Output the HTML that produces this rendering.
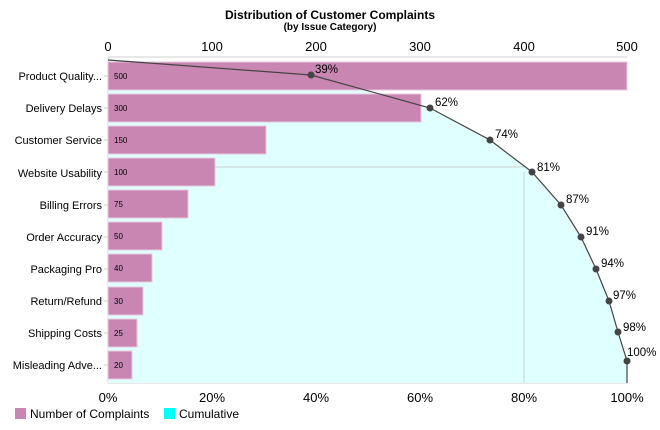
<!DOCTYPE html>
<html><head><meta charset="utf-8"><style>
body{margin:0;background:#fff;}
svg{display:block;font-family:"Liberation Sans",Arial,sans-serif;}
</style></head><body>
<svg width="660" height="430" viewBox="0 0 660 430">
<text x="330" y="19" text-anchor="middle" font-size="12" font-weight="bold">Distribution of Customer Complaints</text>
<text x="330" y="30" text-anchor="middle" font-size="10" font-weight="bold">(by Issue Category)</text>
<g font-size="13" text-anchor="middle">
<text x="108" y="51">0</text><text x="212" y="51">100</text><text x="316" y="51">200</text><text x="420" y="51">300</text><text x="524" y="51">400</text><text x="627" y="51">500</text>
<text x="108" y="402">0%</text><text x="212" y="402">20%</text><text x="316" y="402">40%</text><text x="420" y="402">60%</text><text x="524" y="402">80%</text><text x="627" y="402">100%</text>
</g>
<line x1="108" y1="57" x2="627" y2="57" stroke="#d0d0d0"/>
<line x1="108" y1="383" x2="627" y2="383" stroke="#d0d0d0"/>
<line x1="108" y1="57" x2="108" y2="383" stroke="#d0d0d0"/>
<polygon points="108,60 311,75 430,108 490,140 532,172 561,205 581,237 596,269 609,301 618,332 627,361 627,383 108,383" fill="#e0ffff"/>
<line x1="524" y1="172" x2="524" y2="383" stroke="#c8d0d0"/>
<line x1="108" y1="167" x2="524" y2="167" stroke="#c8d0d0"/>
<g fill="#c986b2" stroke="#e6c8dc" stroke-width="1">
<rect x="108" y="62" width="519" height="28"/>
<rect x="108" y="94" width="313" height="28"/>
<rect x="108" y="126" width="158" height="28"/>
<rect x="108" y="158" width="107" height="28"/>
<rect x="108" y="190" width="80" height="28"/>
<rect x="108" y="222" width="54" height="28"/>
<rect x="108" y="254" width="44" height="28"/>
<rect x="108" y="287" width="35" height="28"/>
<rect x="108" y="319" width="29" height="28"/>
<rect x="108" y="351" width="24" height="28"/>
</g>
<g font-size="8" fill="#000">
<text x="114" y="79">500</text><text x="114" y="111">300</text><text x="114" y="143">150</text><text x="114" y="175">100</text><text x="114" y="207">75</text><text x="114" y="239">50</text><text x="114" y="271">40</text><text x="114" y="304">30</text><text x="114" y="336">25</text><text x="114" y="368">20</text>
</g>
<g font-size="11" text-anchor="end">
<text x="102" y="80">Product Quality...</text><text x="102" y="112">Delivery Delays</text><text x="102" y="144">Customer Service</text><text x="102" y="177">Website Usability</text><text x="102" y="209">Billing Errors</text><text x="102" y="241">Order Accuracy</text><text x="102" y="273">Packaging Pro</text><text x="102" y="305">Return/Refund</text><text x="102" y="337">Shipping Costs</text><text x="102" y="369">Misleading Adve...</text>
</g>
<g stroke="#ccc"><line x1="104" y1="76" x2="108" y2="76"/><line x1="104" y1="108" x2="108" y2="108"/><line x1="104" y1="140" x2="108" y2="140"/><line x1="104" y1="172" x2="108" y2="172"/><line x1="104" y1="205" x2="108" y2="205"/><line x1="104" y1="237" x2="108" y2="237"/><line x1="104" y1="269" x2="108" y2="269"/><line x1="104" y1="301" x2="108" y2="301"/><line x1="104" y1="333" x2="108" y2="333"/><line x1="104" y1="365" x2="108" y2="365"/></g>
<polyline points="108,60 311,75 430,108 490,140 532,172 561,205 581,237 596,269 609,301 618,332 627,361 627,383" fill="none" stroke="#444" stroke-width="1.2"/>
<g fill="#444">
<circle cx="311" cy="75" r="3.5"/><circle cx="430" cy="108" r="3.5"/><circle cx="490" cy="140" r="3.5"/><circle cx="532" cy="172" r="3.5"/><circle cx="561" cy="205" r="3.5"/><circle cx="581" cy="237" r="3.5"/><circle cx="596" cy="269" r="3.5"/><circle cx="609" cy="301" r="3.5"/><circle cx="618" cy="332" r="3.5"/><circle cx="627" cy="361" r="3.5"/>
</g>
<g font-size="11.5">
<text x="315" y="73">39%</text><text x="435" y="106">62%</text><text x="495" y="138">74%</text><text x="537" y="171">81%</text><text x="566" y="203">87%</text><text x="586" y="235">91%</text><text x="601" y="267">94%</text><text x="613" y="299">97%</text><text x="623" y="331">98%</text><text x="627" y="356">100%</text>
</g>
<rect x="15" y="408" width="11" height="11" fill="#c986b2"/>
<text x="30" y="418" font-size="12">Number of Complaints</text>
<rect x="164" y="408" width="11" height="11" fill="#00ffff"/>
<text x="179" y="418" font-size="12">Cumulative</text>
</svg>
</body></html>
